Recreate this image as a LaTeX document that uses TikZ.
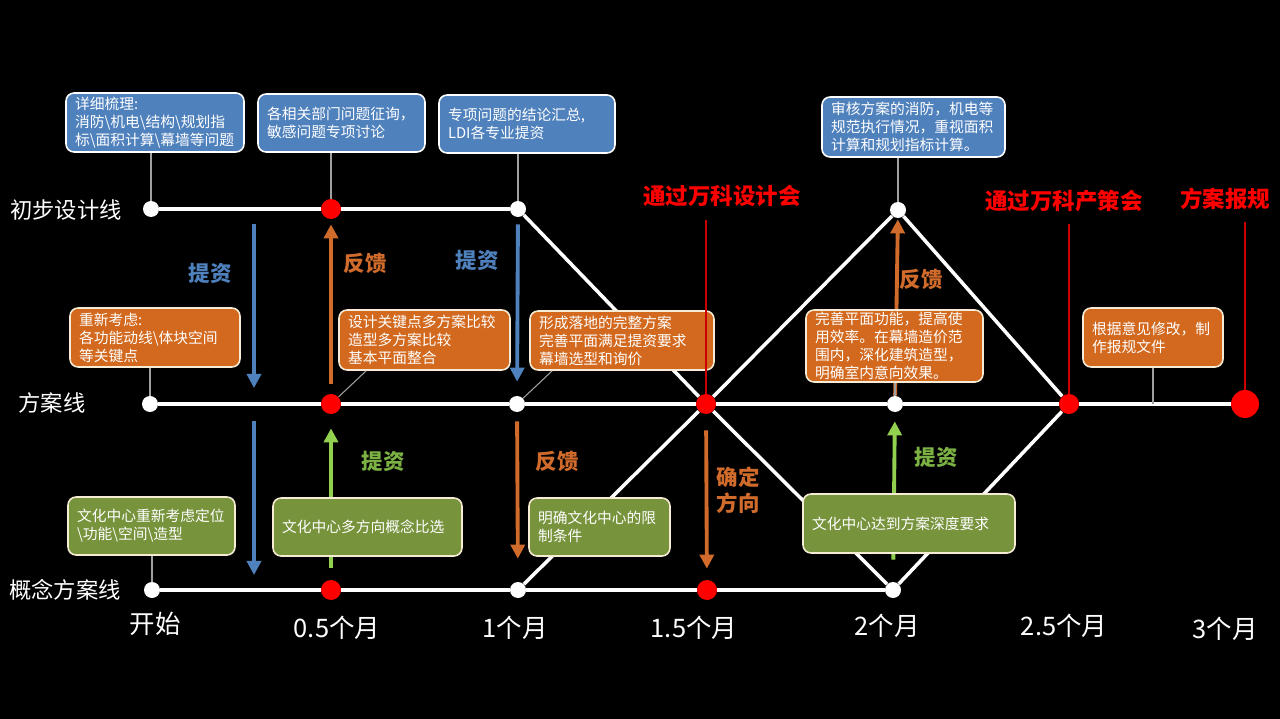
\documentclass[tikz,border=0pt]{standalone}
\usepackage{fontspec}
\setmainfont{Noto Sans CJK SC}
\usetikzlibrary{arrows.meta,positioning,calc}
\definecolor{BoxBlue}{HTML}{4F81BD}
\definecolor{BoxOrange}{HTML}{D2691E}
\definecolor{BoxGreen}{HTML}{77933C}
\definecolor{ArrOrange}{HTML}{D06B2B}
\definecolor{ArrGreen}{HTML}{92D050}
\definecolor{Cream}{HTML}{F6EBD5}
\definecolor{PinGray}{HTML}{A0A0A0}

\begin{document}
\begin{tikzpicture}[x=0.02cm,y=-0.02cm,
    dotw/.style={circle,fill=white,inner sep=0pt,minimum size=0.32cm},
    dotr/.style={circle,fill=red,inner sep=0pt,minimum size=0.4cm},
    mainline/.style={white,line width=2pt},
    pinline/.style={PinGray,line width=.6pt},
    redline/.style={red!80!black,line width=.6pt},
    flow/.style={line width=2.2pt,-{Triangle[width=8pt,length=8pt]}},
    boxbase/.style={rounded corners=0.16cm,line width=.9pt,align=left,inner xsep=0.18cm,inner ysep=0pt,text=white,font=\fontsize{8.4}{10.3}\selectfont},
    bluebox/.style={boxbase,fill=BoxBlue,draw=white},
    orangebox/.style={boxbase,fill=BoxOrange,draw=Cream},
    greenbox/.style={boxbase,fill=BoxGreen,draw=Cream},
    linelabel/.style={text=white,font=\fontsize{12.7}{15}\selectfont},
    timelabel/.style={text=white,font=\fontsize{14.5}{17}\selectfont},
    eventlabel/.style={text=red,inner sep=0pt,font=\bfseries\fontsize{12.8}{15}\selectfont},
    flowlabel/.style={align=center,font=\bfseries\fontsize{12.2}{14.7}\selectfont}]
  \useasboundingbox (0,0) rectangle (1280,719);
  \fill[black] (0,0) rectangle (1280,719);
  % points on the three lines
  \node[dotw] (t0) at (151,209) {};
  \node[dotr] (t1) at (331,209) {};
  \node[dotw] (t2) at (518,209) {};
  \node[dotw] (t3) at (898,210) {};
  \node[dotw] (m0) at (150,404) {};
  \node[dotr] (m1) at (331,404) {};
  \node[dotw] (m2) at (517,404) {};
  \node[dotr] (m3) at (706,404) {};
  \node[dotw] (m4) at (895,404) {};
  \node[dotr] (m5) at (1069,404) {};
  \node[dotr,minimum size=0.56cm] (m6) at (1245,404) {};
  \node[dotw] (b0) at (152,590) {};
  \node[dotr] (b1) at (331,590) {};
  \node[dotw] (b2) at (518,590) {};
  \node[dotr] (b3) at (707,590) {};
  \node[dotw] (b4) at (893,590) {};
  \draw[mainline] (t0)--(t1)--(t2);
  \draw[mainline] (m0)--(m1)--(m2)--(m3)--(m4)--(m5)--(m6);
  \draw[mainline] (b0)--(b1)--(b2)--(b3)--(b4);
  \draw[mainline] (t2)--(m3)--(b4);
  \draw[mainline] (b2)--(m3)--(t3);
  \draw[mainline] (t3)--(m5)--(b4);
  % hand-over arrows
  \coordinate (q0) at (254,224);
  \coordinate (q1) at (254,388);
  \coordinate (q2) at (254,421);
  \coordinate (q3) at (254,575);
  \draw[flow,BoxBlue] (q0)--(q1);
  \draw[flow,BoxBlue] (q2)--(q3);
  \draw[flow,ArrOrange,shorten <=0.2cm,shorten >=0.1cm] (m1)--(t1);
  \draw[flow,ArrGreen,shorten <=0.24cm,shorten >=0.28cm] (b1)--(m1);
  \draw[flow,BoxBlue,shorten <=0.14cm,shorten >=0.28cm] (t2)--(m2);
  \draw[flow,ArrOrange,shorten <=0.18cm,shorten >=0.46cm] (m2)--(b2);
  \draw[flow,ArrOrange,shorten <=0.32cm,shorten >=0.22cm] (m3)--(b3);
  \draw[flow,ArrOrange,shorten >=0.02cm] (m4)--(t3);
  \draw[flow,ArrGreen,shorten <=0.44cm,shorten >=0.18cm] (b4)--(m4);
  \node[flowlabel,text=BoxBlue] at (210,273) {提资};
  \node[flowlabel,text=ArrOrange] at (365,263) {反馈};
  \node[flowlabel,text=ArrGreen!85!black] at (383,461) {提资};
  \node[flowlabel,text=BoxBlue] at (477,260) {提资};
  \node[flowlabel,text=ArrOrange] at (557,461) {反馈};
  \node[flowlabel,text=ArrOrange] at (738,490) {确定\\方向};
  \node[flowlabel,text=ArrOrange] at (921,279) {反馈};
  \node[flowlabel,text=ArrGreen!85!black] at (936,457) {提资};
  % notes
  \node[bluebox,text width=3.2cm,minimum height=1.18cm] (sort) at (155,122.5) {详细梳理:\\消防\textbackslash 机电\textbackslash 结构\textbackslash 规划指\\标\textbackslash 面积计算\textbackslash 幕墙等问题};
  \node[bluebox,text width=2.98cm,minimum height=1.16cm] (consult) at (341.5,123) {各相关部门问题征询，\\敏感问题专项讨论};
  \node[bluebox,text width=3.16cm,minimum height=1.16cm] (summary) at (527,124) {专项问题的结论汇总,\\LDI各专业提资};
  \node[bluebox,text width=3.3cm,minimum height=1.2cm] (review) at (913.5,127) {审核方案的消防，机电等\\规范执行情况，重视面积\\计算和规划指标计算。};
  \node[orangebox,text width=3.04cm,minimum height=1.18cm] (rethink) at (155,337.5) {重新考虑:\\各功能动线\textbackslash 体块空间\\等关键点};
  \node[orangebox,text width=3.06cm,minimum height=1.2cm] (compare) at (424.5,340) {设计关键点多方案比较\\造型多方案比较\\基本平面整合};
  \node[orangebox,text width=3.32cm,minimum height=1.18cm] (complete) at (622,340.5) {形成落地的完整方案\\完善平面满足提资要求\\幕墙选型和询价};
  \node[orangebox,text width=3.18cm,minimum height=1.44cm] (refine) at (894.5,346) {完善平面功能，提高使\\用效率。在幕墙造价范\\围内，深化建筑造型，\\明确室内意向效果。};
  \node[orangebox,text width=2.44cm,minimum height=1.18cm] (revise) at (1153,337.5) {根据意见修改，制\\作报规文件};
  \node[greenbox,text width=2.98cm,minimum height=1.16cm] (culture) at (151.5,526) {文化中心重新考虑定位\\\textbackslash 功能\textbackslash 空间\textbackslash 造型};
  \node[greenbox,text width=3.42cm,minimum height=1.16cm] (concept) at (367.5,527) {文化中心多方向概念比选};
  \node[greenbox,text width=2.46cm,minimum height=1.16cm] (limit) at (599.5,527) {明确文化中心的限\\制条件};
  \node[greenbox,text width=3.88cm,minimum height=1.18cm] (depth) at (909,523.5) {文化中心达到方案深度要求};
  \draw[pinline] (sort.south -| t0)--(t0);
  \draw[pinline] (consult.south -| t1)--(t1);
  \draw[pinline] (summary.south -| t2)--(t2);
  \draw[pinline] (review.south -| t3)--(t3);
  \draw[pinline] (rethink.south -| m0)--(m0);
  \draw[pinline] ([xshift=0.56cm]compare.south west)--(m1);
  \draw[pinline] ([xshift=0.46cm]complete.south west)--(m2);
  \draw[pinline] (refine.south -| m4)--(m4);
  \draw[pinline] (revise.south)--(revise.south |- m5);
  \draw[pinline] (culture.south -| b0)--(b0);
  % line names, milestones, months
  \node[linelabel] (prelim) at (66,210) {初步设计线};
  \node[linelabel] (scheme) at (52,403) {方案线};
  \node[linelabel] (idea) at (65,590) {概念方案线};
  \node[eventlabel] (design) at (722,196) {通过万科设计会};
  \node[eventlabel] (council) at (1064,201) {通过万科产策会};
  \node[eventlabel] (report) at (1225,199) {方案报规};
  \draw[redline,shorten <=0.26cm] (design.south -| m3)--(m3);
  \draw[redline,shorten <=0.24cm] (council.south -| m5)--(m5);
  \draw[redline,shorten <=0.24cm] (report.south -| m6)--(m6);
  \node[timelabel] at (155,624) {开始};
  \node[timelabel] at (337,628) {0.5个月};
  \node[timelabel] at (515,628) {1个月};
  \node[timelabel] at (694,628) {1.5个月};
  \node[timelabel] at (887,626) {2个月};
  \node[timelabel] at (1064,626) {2.5个月};
  \node[timelabel] at (1225,629) {3个月};
\end{tikzpicture}
\end{document}
